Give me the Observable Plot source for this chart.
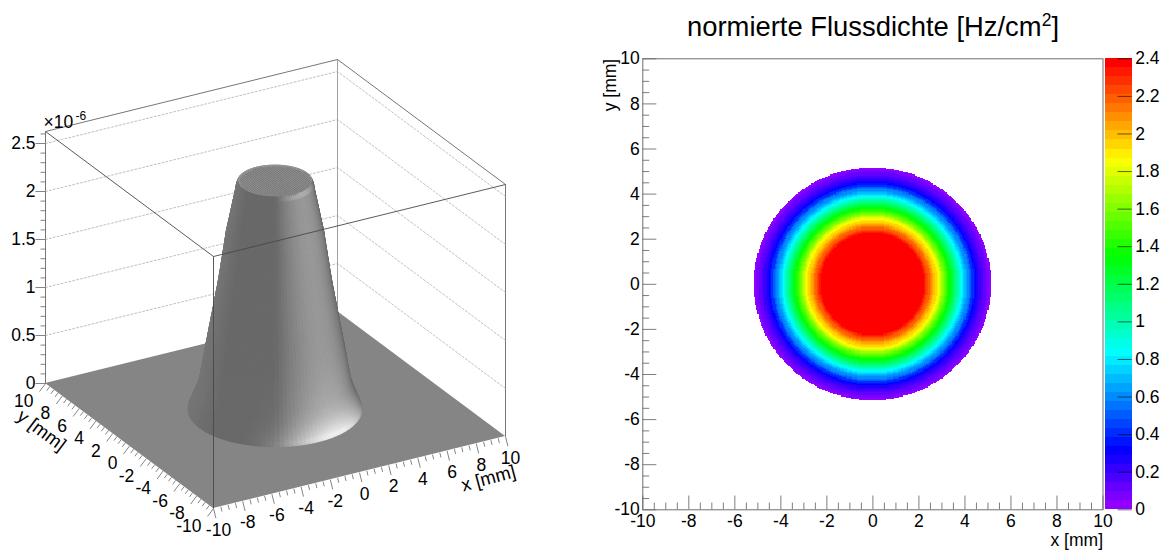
<!DOCTYPE html>
<html>
<head>
<meta charset="utf-8">
<script src="https://cdn.jsdelivr.net/npm/d3@7"></script>
<script src="https://cdn.jsdelivr.net/npm/@observablehq/plot@0.6"></script>
<style>
html,body{margin:0;padding:0;background:#fff;overflow:hidden}
#page{position:relative;width:1169px;height:550px;font-family:"Liberation Sans",Arial,sans-serif;color:#000}
#title{position:absolute;left:590px;width:566px;top:9px;text-align:center;font-size:27.4px;line-height:36px;white-space:nowrap}
#title sup{font-size:17.5px;line-height:0;vertical-align:baseline;position:relative;top:-10px}
</style>
</head>
<body>
<div id="page"><div id="title">normierte Flussdichte [Hz/cm<sup>2</sup>]</div></div>
<script>
// ---- Data ----
const axisTicks = [-10, -8, -6, -4, -2, 0, 2, 4, 6, 8, 10];
const zTicks = [0, 0.5, 1, 1.5, 2, 2.5];
const colorTicks = [0, 0.2, 0.4, 0.6, 0.8, 1, 1.2, 1.4, 1.6, 1.8, 2, 2.2, 2.4];
const profileRadius = [0, 2.2, 2.25, 2.3, 2.35, 2.4, 2.45, 2.5, 2.55, 2.6, 2.65, 2.7, 2.75, 2.8, 2.85, 2.9, 2.95, 3.0, 3.05, 3.1, 3.15, 3.2, 3.25, 3.3, 3.35, 3.4, 3.45, 3.5, 3.55, 3.6, 3.65, 3.7, 3.75, 3.8, 3.85, 3.9, 3.95, 4.0, 4.05, 4.1, 4.15, 4.2, 4.25, 4.3, 4.35, 4.4, 4.45, 4.5, 4.55, 4.6, 4.65, 4.7, 4.75, 4.8, 4.85, 4.9, 4.95, 5.0, 5.05, 5.1, 5.16];
const profileFlux = [2.38, 2.38, 2.36, 2.33, 2.28, 2.24, 2.2, 2.16, 2.12, 2.08, 2.04, 2.0, 1.96, 1.92, 1.88, 1.84, 1.78, 1.73, 1.67, 1.62, 1.56, 1.51, 1.45, 1.4, 1.35, 1.3, 1.25, 1.21, 1.16, 1.12, 1.07, 1.03, 0.98, 0.94, 0.89, 0.85, 0.8, 0.76, 0.71, 0.67, 0.62, 0.58, 0.53, 0.48, 0.43, 0.39, 0.34, 0.3, 0.27, 0.25, 0.22, 0.2, 0.18, 0.16, 0.14, 0.12, 0.1, 0.08, 0.06, 0.04, 0.0];
const zMax = 2.625;
const edge = 5.16;

const page = document.getElementById("page");
const font = '"Liberation Sans", Arial, sans-serif';
const minorAxis = d3.range(-10, 10.01, 0.5);
const minorZ = d3.range(0, 2.61, 0.1);
const fontSize = 17.5;

function fluxAt(r) {
  if (r < profileRadius[1]) return profileFlux[0];
  return profileFlux[d3.bisectCenter(profileRadius, r)];
}

// ---- Left panel: oblique projection of the 3D box ----
const project = (x, y, z) => [275 + 14.6 * x - 8.4 * y, 409.5 - 3.6 * x - 6.25 * y - 96 * z];
const P = (x, y, z) => { const p = project(x, y, z); return {px: p[0], py: p[1]}; };
const seg = (a, b) => { const p = project(...a), q = project(...b); return {x1: p[0], y1: p[1], x2: q[0], y2: q[1]}; };

function shade(thetaDeg, rMid, flat) {
  if (flat) return 0.585;
  const wrap = d => ((d + 540) % 360) - 180;
  const d = wrap(thetaDeg + 75);
  const f = Math.abs(d) < 45 ? Math.cos(2 * d * Math.PI / 180) : 0;
  const dl = wrap(thetaDeg - 150);
  const fl = Math.abs(dl) < 45 ? Math.cos(2 * dl * Math.PI / 180) : 0;
  let v = 0.41 + 0.19 * f + 0.05 * fl;
  if (rMid > 3.6 && Math.abs(d) < 70) {
    const c = Math.cos(d * 90 / 70 * Math.PI / 180);
    v += 0.36 * c * c * Math.pow((rMid - 3.6) / 1.56, 3);
  }
  if (rMid < 2.3) v += 0.08 * f;
  return v;
}
const gray = v => { const g = Math.round(Math.min(1, v) * 255); return d3.rgb(g, g, g).formatHex(); };

const quads = [];
const dTheta = 3;
for (let i = 0; i < profileRadius.length - 1; i++) {
  const r0 = profileRadius[i], r1 = profileRadius[i + 1];
  const z0 = profileFlux[i], z1 = profileFlux[i + 1];
  for (let t = 0; t < 360; t += dTheta) {
    const a0 = t * Math.PI / 180, a1 = (t + dTheta) * Math.PI / 180;
    const A = project(r0 * Math.cos(a0), r0 * Math.sin(a0), z0);
    const B = project(r1 * Math.cos(a0), r1 * Math.sin(a0), z1);
    const C = project(r1 * Math.cos(a1), r1 * Math.sin(a1), z1);
    const D = project(r0 * Math.cos(a1), r0 * Math.sin(a1), z0);
    const mid = t + dTheta / 2;
    const rm = (r0 + r1) / 2;
    const depth = project(rm * Math.cos(mid * Math.PI / 180), rm * Math.sin(mid * Math.PI / 180), 0)[1];
    quads.push({A, B, C, D, depth, col: gray(shade(mid, rm, i === 0))});
  }
}
// painter's order: far first, the near facets cover the hidden ones
quads.sort((a, b) => a.depth - b.depth);
const quadRows = [];
quads.forEach((q, id) => {
  quadRows.push({id, col: q.col, x1: q.A[0], y1: q.A[1], x2: q.B[0], y2: q.B[1]});
  quadRows.push({id, col: q.col, x1: q.D[0], y1: q.D[1], x2: q.C[0], y2: q.C[1]});
});
const floorRows = [
  (() => { const a = project(-10, 10, 0), b = project(-10, -10, 0); return {x1: a[0], y1: a[1], x2: b[0], y2: b[1]}; })(),
  (() => { const a = project(10, 10, 0), b = project(10, -10, 0); return {x1: a[0], y1: a[1], x2: b[0], y2: b[1]}; })()
];
const capDots = [];
for (let i = -16; i <= 16; i++) for (let j = -16; j <= 16; j++) {
  const x = i * 0.14, y = j * 0.14;
  if (Math.hypot(x, y) < 2.12) capDots.push(P(x, y, profileFlux[0]));
}
const gridRows = [];
zTicks.filter(z => z > 0).forEach(z => {
  [[-10, 10], [10, 10], [10, -10]].forEach(([x, y]) => gridRows.push({...P(x, y, z), z}));
});
const backEdges = [seg([10, 10, 0], [10, 10, zMax])];
const midEdges = [
  seg([-10, 10, zMax], [10, 10, zMax]),
  seg([10, 10, zMax], [10, -10, zMax]),
  seg([10, -10, 0], [10, -10, zMax]),
  seg([-10, 10, 0], [-10, 10, zMax])
];
const frontEdges = [
  seg([-10, -10, 0], [-10, -10, zMax]),
  seg([-10, 10, zMax], [-10, -10, zMax]),
  seg([-10, -10, zMax], [10, -10, zMax])
];
// ticks: perpendicular to their edge on screen
const tickX = minorAxis.map(v => {
  const p = project(v, -10, 0), L = axisTicks.includes(v) ? 10 : 5;
  return {x1: p[0], y1: p[1], x2: p[0] + 0.24 * L, y2: p[1] + 0.97 * L};
});
const tickY = minorAxis.map(v => {
  const p = project(-10, v, 0), L = axisTicks.includes(v) ? 10 : 5;
  return {x1: p[0], y1: p[1], x2: p[0] - 0.6 * L, y2: p[1] + 0.8 * L};
});
const tickZ = minorZ.map(v => {
  const p = project(-10, 10, v), L = zTicks.some(t => Math.abs(t - v) < 1e-6) ? 10 : 5;
  return {x1: p[0], y1: p[1], x2: p[0] - L, y2: p[1]};
});
const lab = (arr, f) => arr.map(v => ({...f(v), t: String(v)}));
const zTop = P(-10, 10, zMax);

const left = Plot.plot({
  width: 590, height: 550,
  margin: 0,
  x: {type: "identity", axis: null},
  y: {type: "identity", axis: null},
  color: {type: "identity"},
  style: {position: "absolute", left: "0px", top: "0px", fontFamily: font, background: "transparent", maxWidth: "none"},
  marks: [
    Plot.link(backEdges, {x1: "x1", y1: "y1", x2: "x2", y2: "y2", stroke: "#a0a0a0", strokeWidth: 1}),
    Plot.link(midEdges, {x1: "x1", y1: "y1", x2: "x2", y2: "y2", stroke: "#666", strokeWidth: 0.9}),
    Plot.line(gridRows, {x: "px", y: "py", z: "z", stroke: "#b0b0b0", strokeWidth: 0.8, strokeDasharray: "2,2"}),
    Plot.area(floorRows, {x1: "x1", y1: "y1", x2: "x2", y2: "y2", fill: "#858585"}),
    Plot.area(quadRows, {x1: "x1", y1: "y1", x2: "x2", y2: "y2", z: "id", fill: "col", stroke: "col", strokeWidth: 0.7}),
    Plot.dot(capDots, {x: "px", y: "py", r: 0.55, fill: "#6a6a6a", stroke: "none"}),
    Plot.link(frontEdges, {x1: "x1", y1: "y1", x2: "x2", y2: "y2", stroke: "#484848", strokeWidth: 0.9}),
    Plot.link(tickX, {x1: "x1", y1: "y1", x2: "x2", y2: "y2", stroke: "#666", strokeWidth: 0.8}),
    Plot.link(tickY, {x1: "x1", y1: "y1", x2: "x2", y2: "y2", stroke: "#666", strokeWidth: 0.8}),
    Plot.link(tickZ, {x1: "x1", y1: "y1", x2: "x2", y2: "y2", stroke: "#666", strokeWidth: 0.8}),
    Plot.text(lab(zTicks, v => P(-10, 10, v)), {x: "px", y: "py", text: "t", fontSize, textAnchor: "end", dx: -10, fill: "#000"}),
    Plot.text(lab(axisTicks, v => P(v, -10, 0)), {x: "px", y: "py", text: "t", fontSize, dx: 5, dy: 21.5, fill: "#000"}),
    Plot.text(lab(axisTicks, v => P(-10, v, 0)), {x: "px", y: "py", text: "t", fontSize, textAnchor: "end", dx: -12, dy: 17.5, fill: "#000"}),
    Plot.text(["x [mm]"], {x: () => P(10, -10, 0).px, y: () => P(10, -10, 0).py, text: d => d, fontSize: 18.5, rotate: -15, dx: -17, dy: 42, fill: "#000"}),
    Plot.text(["y [mm]"], {x: () => P(-10, 10, 0).px, y: () => P(-10, 10, 0).py, text: d => d, fontSize: 18.5, rotate: 37, dx: -4, dy: 47, fill: "#000"}),
    Plot.text(["×10"], {x: () => zTop.px, y: () => zTop.py, text: d => d, fontSize, textAnchor: "start", dx: -2, dy: -9, fill: "#000"}),
    Plot.text(["-6"], {x: () => zTop.px, y: () => zTop.py, text: d => d, fontSize: 12, textAnchor: "start", dx: 30, dy: -15, fill: "#000"})
  ]
});
page.appendChild(left);

// ---- Right panel: 2D map ----
const levels = 50, vmax = 2.4;
const thresholds = d3.range(1, levels).map(i => i * vmax / levels);
const palette = d3.range(levels).map(i => d3.hsl(280 - (i + 1) * 5.6, 1, 0.5).formatHex());
const colorScale = {type: "threshold", domain: thresholds, range: palette};

const binWidth = 0.05;
const bins = d3.range(-104, 104).map(i => i * binWidth);
const cells = [];
for (const bx of bins) for (const by of bins) {
  const r = Math.hypot(bx + binWidth / 2, by + binWidth / 2);
  if (r <= edge) cells.push({x1: bx, x2: bx + binWidth, y1: by, y2: by + binWidth, v: fluxAt(r)});
}
const lineGrey = "#6e6e6e";
const majLen = 0.61, minLen = 0.3;
const right = Plot.plot({
  width: 530, height: 550,
  marginLeft: 52.3, marginRight: 17.5, marginTop: 58.3, marginBottom: 40.7,
  x: {domain: [-10, 10], axis: null},
  y: {domain: [-10, 10], axis: null},
  color: colorScale,
  style: {position: "absolute", left: "590px", top: "0px", fontFamily: font, background: "transparent", maxWidth: "none"},
  marks: [
    Plot.rect(cells, {x1: "x1", x2: "x2", y1: "y1", y2: "y2", fill: "v", shapeRendering: "crispEdges"}),
    Plot.ruleX(minorAxis, {x: d => d, y1: -10, y2: d => -10 + (axisTicks.includes(d) ? majLen : minLen), stroke: lineGrey, strokeWidth: 0.9}),
    Plot.ruleY(minorAxis, {y: d => d, x1: -10, x2: d => -10 + (axisTicks.includes(d) ? majLen : minLen), stroke: lineGrey, strokeWidth: 0.9}),
    Plot.frame({stroke: lineGrey, strokeWidth: 1}),
    Plot.axisX({ticks: axisTicks, tickSize: 0, tickPadding: 5, tickFormat: String, fontSize, label: null, fill: "#000"}),
    Plot.axisY({ticks: axisTicks, tickSize: 0, tickPadding: 3, tickFormat: String, fontSize, label: null, fill: "#000"}),
    Plot.text(["x [mm]"], {x: () => 10, y: () => -10, text: d => d, fontSize: 17.5, textAnchor: "end", dy: 31, fill: "#000"}),
    Plot.text(["y [mm]"], {x: () => -10, y: () => 10, text: d => d, fontSize: 17.5, textAnchor: "end", rotate: -90, dx: -32.5, fill: "#000"})
  ]
});
page.appendChild(right);

// ---- Colour bar ----
const bands = d3.range(levels).map(i => ({lo: i * vmax / levels, hi: (i + 1) * vmax / levels}));
const bar = Plot.plot({
  width: 69, height: 550,
  marginLeft: 5, marginRight: 37.3, marginTop: 58.3, marginBottom: 40.7,
  x: {domain: [0, 1], axis: null},
  y: {domain: [0, vmax], axis: null},
  color: colorScale,
  style: {position: "absolute", left: "1100px", top: "0px", fontFamily: font, background: "transparent", maxWidth: "none"},
  marks: [
    Plot.rect(bands, {x1: () => 0, x2: () => 1, y1: "lo", y2: "hi", fill: d => (d.lo + d.hi) / 2, shapeRendering: "crispEdges"}),
    Plot.ruleY(colorTicks, {y: d => d, x1: () => 0.47, x2: () => 1, stroke: "#000", strokeOpacity: 0.6, strokeWidth: 1}),
    Plot.axisY({anchor: "right", ticks: colorTicks, tickSize: 0, tickPadding: 3, tickFormat: String, fontSize, label: null, fill: "#000", textAnchor: "start"})
  ]
});
page.appendChild(bar);
</script>
</body>
</html>
